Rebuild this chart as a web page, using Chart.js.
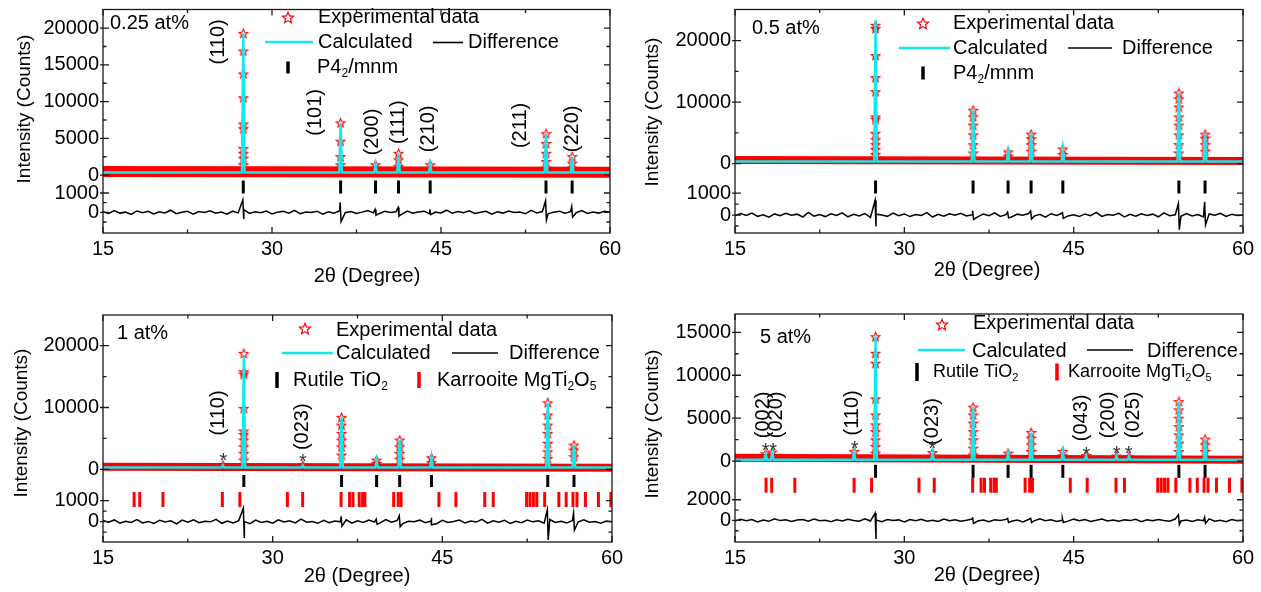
<!DOCTYPE html>
<html>
<head>
<meta charset="utf-8">
<script src="https://cdn.jsdelivr.net/npm/chart.js@4.4.1/dist/chart.umd.min.js"></script>
<style>
  body { margin: 0; background: #fff; }
  #wrap { position: relative; width: 1261px; height: 592px; overflow: hidden; background: #fff; }
  #wrap canvas { position: absolute; }
</style>
</head>
<body>
<div id="wrap">
  <canvas id="c1" width="630" height="296" style="left:0;top:0"></canvas>
  <canvas id="c2" width="631" height="296" style="left:630px;top:0"></canvas>
  <canvas id="c3" width="630" height="296" style="left:0;top:296px"></canvas>
  <canvas id="c4" width="631" height="296" style="left:630px;top:296px"></canvas>
</div>
<script>
// ---- data ----
const twoTheta = { min: 15, max: 60, major: [15, 30, 45, 60], minor: [22.5, 37.5, 52.5] };
const rutilePos = [27.45, 36.09, 39.19, 41.23, 44.04, 54.32, 56.64];
const karrooitePos = [17.75, 18.25, 20.3, 25.55, 27.1, 31.3, 32.65, 36.05, 36.8, 37.1, 37.65, 37.95, 38.15,
  40.7, 41.1, 41.35, 44.7, 46.2, 48.75, 49.5, 52.45, 52.75, 53.05, 53.35, 54.05, 55.3, 55.95, 56.55,
  56.9, 57.65, 58.8, 59.9];

const panelTitles = ['0.25 at%', '0.5 at%', '1 at%', '5 at%'];
const seriesNames = ['Experimental data', 'Calculated', 'Difference'];
const phaseNames = ['P4_{2}/mnm', 'Rutile TiO_{2}', 'Karrooite MgTi_{2}O_{5}'];
const axisTitles = ['2θ (Degree)', 'Intensity (Counts)'];

// 0.25 at%
const calc1 = [19300, 7100, 1450, 2970, 1450, 5700, 2530];
const stars1 = [
  [19290, 16890, 13770, 10530, 6970, 6310, 3640, 2970, 2310, 1430],
  [7110, 4620, 2530, 1430], [1430], [2970, 2090, 1200], [1430],
  [5640, 4310, 2970, 1870, 970], [2530, 1640, 970]
];
const diffNoise1 = [
  30,-60,90,-40,10,-110,70,-20,50,-80, 30,-30,110,-70,0,60,-90,40,-10,80,
  -50,20,-100,60,-30,140,-60,30,-20,70, -80,10,50,-40,100,-70,20,-10,60,-90,
  30,-50,80,-20,40,-60,10,90,-30,-70, 50,-10,30,-100,70,-40,20,60,-80,10,
  -30,110,-50,40,-20,80,-60,0,50,-90, 30,-40,70,-10,20,-70,100,-30,40,-80,
  10,60,-50,30,-20,90,-60,20,-40,50, 10];
const diffSpikes1 = [[27.45, 650, -300], [36.09, 520, -480], [39.19, 150, -150], [41.23, 250, -200],
  [44.04, 150, -120], [54.32, 600, -400], [56.64, 300, -250]];
const hkl1 = [['(110)', 25.25, 18130], ['(101)', 33.85, 8530], ['(200)', 38.9, 5870], ['(111)', 41.26, 7200],
  ['(210)', 43.93, 6300], ['(211)', 52.09, 6760], ['(220)', 56.68, 6300]];

// 0.5 at%
const calc2 = [23300, 8700, 1900, 4800, 2400, 11500, 4800];
const stars2 = [
  [22490, 21960, 17550, 13990, 11710, 7610, 7240, 4940, 3890, 3090, 2300, 1500],
  [8680, 7610, 6280, 4690, 3090, 1750], [1910, 1230], [4790, 4050, 3090, 2030], [2390, 1500],
  [11480, 10530, 9200, 7610, 6280, 4690, 3090, 1750], [4790, 4150, 3090, 2030]
];
const diffNoise2 = [
  -40,70,-20,90,-60,10,-100,50,-30,80, -10,40,-90,120,-50,20,-70,60,-20,100,
  -80,30,-40,70,-110,40,0,-60,90,-30, 50,-70,20,-20,110,-90,30,-50,60,-10,
  80,-40,10,-80,50,-30,100,-60,20,-90, 40,-10,70,-50,30,-100,60,-20,90,-40,
  10,-70,50,-30,120,-60,20,-10,80,-90, 30,-50,60,-20,40,-80,100,-30,10,-60,
  70,-40,20,-90,50,-10,80,-60,30,-20, 0];
const diffSpikes2 = [[27.45, 670, -520], [36.09, 200, -200], [39.19, 130, -130], [41.23, 180, -180],
  [44.04, 150, -150], [54.32, 520, -670], [56.64, 600, -450]];

// 1 at%
const calc3 = [18300, 8400, 1500, 4740, 1880, 10780, 3930];
const calcMinor3 = [[25.6, 700], [32.67, 650]];
const stars3 = [
  [18770, 15790, 15420, 9870, 6200, 5660, 4740, 3660, 2590, 1500],
  [8410, 7170, 5820, 4740, 3660, 2310], [1500, 970], [4740, 3660, 2590, 1620], [1880, 1070],
  [10780, 8790, 7170, 5820, 4210, 2850, 1780], [3930, 3120, 2040]
];
const diffNoise3 = [
  50,-30,80,-70,20,-40,100,-60,10,-90, 60,-20,40,-110,70,-30,90,-50,20,-10,
  110,-80,30,-60,50,0,-100,70,-40,20, -70,90,-20,40,-60,120,-30,10,-80,60,
  -50,30,-10,90,-70,40,-40,80,-20,-60, 100,-30,50,-90,20,-10,70,-50,30,-100,
  60,-40,10,80,-60,30,-20,110,-70,40, -30,60,-90,20,-50,80,-10,40,-70,100,
  -40,20,-60,50,-20,90,-30,10,-80,30, -10];
const diffSpikes3 = [[27.45, 640, -740], [36.09, 250, -220], [39.19, 120, -120], [41.23, 280, -250],
  [44.04, 180, -150], [54.32, 560, -870], [56.64, 400, -400]];
const hkl3 = [['(110)', 25.25, 9110], ['(023)', 32.67, 6890]];
const marks3 = [[25.64, 2150], [32.67, 1940]];

// 5 at%
const calc4 = [14500, 6300, 930, 3330, 1120, 6950, 2560];
const calcMinor4 = [[17.72, 850], [18.3, 1050], [25.55, 1120], [32.5, 1000], [46.1, 650], [48.8, 600], [49.9, 550]];
const stars4 = [
  [14490, 12560, 11400, 7250, 5380, 4220, 3440, 2480, 1700, 930],
  [6280, 5380, 4420, 3440, 2480, 1510, 730], [930, 530], [3330, 2670, 1900, 1120], [1120, 620],
  [6930, 5970, 5000, 4020, 3060, 2090, 1120], [2560, 1900, 1120]
];
const diffNoise4 = [
  -60,120,-30,80,-140,40,-90,150,-20,60, -110,30,90,-70,140,-40,10,-130,70,-50,
  100,-20,-80,160,-60,30,-120,90,-10,50, -150,80,-30,110,-70,20,-100,140,-40,60,
  -90,10,130,-60,40,-120,70,-20,100,-80, 30,-140,90,-50,150,-30,60,-110,20,-70,
  120,-40,80,-100,10,140,-60,30,-90,50, -20,110,-130,70,-40,90,-10,-80,130,-50,
  40,-100,60,-30,150,-70,20,-120,80,-40, 10];
const diffSpikes4 = [[27.45, 710, -1800], [36.09, 300, -300], [39.19, 200, -200], [41.23, 200, -200],
  [44.04, 200, -200], [54.32, 550, -400], [56.64, 300, -300]];
const hkl4 = [['(002)', 17.48, 5385], ['(020)', 18.67, 5385], ['(110)', 25.45, 5617], ['(023)', 32.49, 4605],
  ['(043)', 45.68, 5036], ['(200)', 48.04, 5385], ['(025)', 50.26, 5385]];
const marks4 = [[17.72, 1700], [18.37, 1700], [25.6, 1900], [32.49, 1900], [46.13, 1230], [48.81, 1310], [49.87, 1310]];

// ---- style ----
const CYAN = '#12e9ec';
const RED = '#ff0000';
const INK = '#1a1a1a';
const FONT = "'Liberation Sans', Arial, sans-serif";
const PEAK_HALF = 0.12;

Chart.defaults.font.family = FONT;
Chart.defaults.font.size = 20;
Chart.defaults.color = '#000';

function starPath(ctx, cx, cy, r) {
  ctx.beginPath();
  for (let i = 0; i < 10; i++) {
    const rr = i % 2 ? r * 0.45 : r;
    const a = -Math.PI / 2 + i * Math.PI / 5;
    ctx.lineTo(cx + rr * Math.cos(a), cy + rr * Math.sin(a));
  }
  ctx.closePath();
}

const starImg = document.createElement('canvas');
starImg.width = 11; starImg.height = 11;
(function () {
  const g = starImg.getContext('2d');
  g.strokeStyle = RED; g.lineWidth = 1.1;
  starPath(g, 5.5, 5.9, 4.6); g.stroke();
})();

function richText(ctx, str, x, y, size) {
  const parts = str.split(/_\{([^}]*)\}/);
  let cx = x;
  ctx.textAlign = 'left'; ctx.textBaseline = 'middle';
  parts.forEach((s, i) => {
    const sub = i % 2 === 1;
    ctx.font = `${sub ? Math.round(size * 0.62) : size}px ${FONT}`;
    ctx.fillText(s, cx, y + (sub ? size * 0.33 : 0));
    cx += ctx.measureText(s).width;
  });
}

function rotatedText(ctx, str, x, y, size) {
  ctx.save();
  ctx.translate(x, y);
  ctx.rotate(-Math.PI / 2);
  ctx.font = `${size}px ${FONT}`;
  ctx.textAlign = 'center'; ctx.textBaseline = 'middle';
  ctx.fillText(str, 0, 0);
  ctx.restore();
}

// frame, inward ticks, axis titles, peak labels and legend
const decorations = {
  id: 'decorations',
  afterDatasetsDraw(chart, args, o) {
    const p = o.panel;
    const { ctx, chartArea: a, scales: { x, y } } = chart;
    ctx.save();
    ctx.strokeStyle = INK; ctx.lineWidth = 1.3;
    ctx.strokeRect(a.left, a.top, a.right - a.left, a.bottom - a.top);
    ctx.beginPath();
    x.ticks.forEach(t => {
      const px = x.getPixelForValue(t.value), len = t.label ? 6 : 3.5;
      ctx.moveTo(px, a.bottom); ctx.lineTo(px, a.bottom - len);
      ctx.moveTo(px, a.top); ctx.lineTo(px, a.top + len);
    });
    y.ticks.forEach(t => {
      const py = y.getPixelForValue(t.value), len = t.label ? 6 : 3.5;
      ctx.moveTo(a.left - (t.label ? 3 : 0), py); ctx.lineTo(a.left + len, py);
      ctx.moveTo(a.right, py); ctx.lineTo(a.right - len, py);
    });
    ctx.stroke();

    const L = p.legend;
    ctx.fillStyle = '#000';
    ctx.font = `20px ${FONT}`;
    ctx.textAlign = 'center'; ctx.textBaseline = 'middle';
    ctx.fillText(axisTitles[0], L.xTitle[0], L.xTitle[1]);
    rotatedText(ctx, axisTitles[1], L.yTitle[0], L.yTitle[1], 19);

    (p.hkl || []).forEach(([t, vx, vy]) => rotatedText(ctx, t, x.getPixelForValue(vx), y.getPixelForValue(vy), 20));
    ctx.fillStyle = '#333';
    ctx.font = `20px ${FONT}`;
    ctx.textAlign = 'center'; ctx.textBaseline = 'middle';
    (p.marks || []).forEach(([vx, vy]) => ctx.fillText('*', x.getPixelForValue(vx), y.getPixelForValue(vy) + 5));

    // legend
    ctx.fillStyle = '#000';
    richText(ctx, panelTitles[p.index], L.title[0], L.title[1], 20);
    ctx.strokeStyle = RED; ctx.lineWidth = 1.2;
    starPath(ctx, L.star[0], L.star[1], 5.8); ctx.stroke();
    richText(ctx, seriesNames[0], L.exp[0], L.exp[1], 20);
    ctx.lineWidth = 2.4; ctx.strokeStyle = CYAN;
    ctx.beginPath(); ctx.moveTo(L.calcLine[0], L.calcLine[2]); ctx.lineTo(L.calcLine[1], L.calcLine[2]); ctx.stroke();
    richText(ctx, seriesNames[1], L.calc[0], L.calc[1], 20);
    ctx.lineWidth = 1.6; ctx.strokeStyle = '#000';
    ctx.beginPath(); ctx.moveTo(L.diffLine[0], L.diffLine[2]); ctx.lineTo(L.diffLine[1], L.diffLine[2]); ctx.stroke();
    richText(ctx, seriesNames[2], L.diff[0], L.diff[1], 20);
    L.phases.forEach(([bx, by, bh, col, tx, name, size]) => {
      ctx.strokeStyle = col; ctx.lineWidth = 3.5;
      ctx.beginPath(); ctx.moveTo(bx, by - bh / 2); ctx.lineTo(bx, by + bh / 2); ctx.stroke();
      ctx.fillStyle = '#000';
      richText(ctx, phaseNames[name], tx, by, size);
    });
    ctx.restore();
  }
};

function buildPanel(canvasId, p) {
  const cv = document.getElementById(canvasId);
  const [mMin, mMax] = p.mainRange, [dMin, dMax] = p.diffRange;
  const toMain = v => mMin + (v - dMin) / (dMax - dMin) * (mMax - mMin);

  const peaks = rutilePos.map((x, i) => [x, p.calc[i]]).concat(p.calcMinor || []).sort((a, b) => a[0] - b[0]);
  const calcLine = [{ x: twoTheta.min, y: p.calcBg }];
  peaks.forEach(([x, h]) => {
    calcLine.push({ x: x - PEAK_HALF, y: p.calcBg }, { x, y: h }, { x: x + PEAK_HALF, y: p.calcBg });
  });
  calcLine.push({ x: twoTheta.max, y: p.calcBg });

  const stars = [];
  p.stars.forEach((hs, i) => hs.forEach(h => stars.push({ x: rutilePos[i], y: h })));
  (p.calcMinor || []).forEach(([x, h]) => stars.push({ x, y: h }));

  const band = [{ x: twoTheta.min, y: p.band[0] }, { x: twoTheta.max, y: p.band[1] }];

  const n = p.noise.length;
  const diff = p.noise.map((v, i) => ({ x: twoTheta.min + i * (twoTheta.max - twoTheta.min) / (n - 1), y: v }));
  p.spikes.forEach(([x, up, dn]) => diff.push({ x: x - 0.04, y: up }, { x: x + 0.04, y: dn }));
  diff.sort((a, b) => a.x - b.x);

  const datasets = [
    { data: calcLine, showLine: true, borderColor: CYAN, borderWidth: 2.4, pointRadius: 0 },
    { data: stars, pointStyle: starImg, pointRadius: 4 },
    { data: band, showLine: true, borderColor: RED, borderWidth: p.bandWidth, pointRadius: 0 },
    { data: diff, yAxisID: 'yd', showLine: true, borderColor: '#000', borderWidth: 1.5, pointRadius: 0 },
    { data: rutilePos.map(x => ({ x, y: p.rows[0] })), pointStyle: 'line', pointRotation: 90,
      pointRadius: p.rowLen[0], pointBorderWidth: 3, pointBorderColor: '#000' }
  ];
  if (p.rows.length > 1) {
    datasets.push({ data: karrooitePos.map(x => ({ x, y: p.rows[1] })), pointStyle: 'line', pointRotation: 90,
      pointRadius: p.rowLen[1], pointBorderWidth: 3, pointBorderColor: RED });
  }

  const a = p.area;
  new Chart(cv, {
    type: 'scatter',
    data: { datasets },
    plugins: [decorations],
    options: {
      responsive: false, animation: false, events: [], devicePixelRatio: 1,
      layout: { padding: { left: 0, top: a[1], right: cv.width - a[2], bottom: 0 } },
      plugins: { legend: { display: false }, tooltip: { enabled: false }, decorations: { panel: p } },
      scales: {
        x: {
          type: 'linear', position: 'bottom', min: twoTheta.min, max: twoTheta.max,
          grid: { display: false, drawTicks: false }, border: { display: false },
          ticks: { autoSkip: false, maxRotation: 0, padding: 4, callback: (v, i, t) => t[i].text },
          afterBuildTicks: s => {
            s.ticks = twoTheta.major.map(v => ({ value: v, text: String(v) }))
              .concat(twoTheta.minor.map(v => ({ value: v, text: '' })))
              .sort((u, w) => u.value - w.value);
          },
          afterFit: s => { s.height = cv.height - a[3]; s.paddingLeft = 0; s.paddingRight = 0; }
        },
        y: {
          type: 'linear', position: 'left', min: mMin, max: mMax,
          grid: { display: false, drawTicks: false }, border: { display: false },
          ticks: { autoSkip: false, padding: 4, callback: (v, i, t) => t[i].text },
          afterBuildTicks: s => {
            const list = [];
            p.yMajor.forEach(v => list.push({ value: v, text: String(v) }));
            p.yMinor.forEach(v => list.push({ value: v, text: '' }));
            p.dMajor.forEach(v => list.push({ value: toMain(v), text: String(v) }));
            p.dMinor.forEach(v => list.push({ value: toMain(v), text: '' }));
            s.ticks = list.sort((u, w) => u.value - w.value);
          },
          afterFit: s => { s.width = a[0]; s.paddingTop = 0; s.paddingBottom = 0; }
        },
        yd: { type: 'linear', display: false, min: dMin, max: dMax }
      }
    }
  });
}

buildPanel('c1', {
  index: 0, area: [103, 5, 610, 233], mainRange: [-7870, 22530], diffRange: [-1070, 10500],
  yMajor: [0, 5000, 10000, 15000, 20000], yMinor: [2500, 7500, 12500, 17500], dMajor: [0, 1000], dMinor: [-500, 500],
  calc: calc1, calcBg: 350, stars: stars1, band: [480, 380], bandWidth: 11,
  noise: diffNoise1, spikes: diffSpikes1, rows: [-1600], rowLen: [6.5], hkl: hkl1,
  legend: { xTitle: [367, 276], yTitle: [25, 109], title: [110, 23], star: [288, 18], exp: [318, 17],
    calcLine: [265, 313, 42], calc: [318, 42], diffLine: [433, 463, 42.5], diff: [468, 42],
    phases: [[288, 67.5, 12, '#000', 317, 0, 20]] }
});
buildPanel('c2', {
  index: 1, area: [105, 6, 613, 233], mainRange: [-11260, 25040], diffRange: [-820, 9380],
  yMajor: [0, 10000, 20000], yMinor: [5000, 15000], dMajor: [0, 1000], dMinor: [-500, 500],
  calc: calc2, calcBg: 350, stars: stars2, band: [600, 450], bandWidth: 8,
  noise: diffNoise2, spikes: diffSpikes2, rows: [-3800], rowLen: [6.5],
  legend: { xTitle: [357, 270], yTitle: [23, 112], title: [122, 28], star: [293, 24], exp: [323, 23],
    calcLine: [269, 320, 48], calc: [323, 48], diffLine: [438, 482, 48], diff: [492, 48],
    phases: [[293, 73, 13, '#000', 323, 0, 20]] }
});
buildPanel('c3', {
  index: 2, area: [103, 19, 612, 246], mainRange: [-11760, 24970], diffRange: [-970, 9840],
  yMajor: [0, 10000, 20000], yMinor: [5000, 15000], dMajor: [0, 1000], dMinor: [-500, 500],
  calc: calc3, calcMinor: calcMinor3, calcBg: 300, stars: stars3, band: [420, 250], bandWidth: 8,
  noise: diffNoise3, spikes: diffSpikes3, rows: [-1890, -4890], rowLen: [6, 7.5], hkl: hkl3, marks: marks3,
  legend: { xTitle: [357, 280], yTitle: [22, 127], title: [117, 37], star: [305, 33], exp: [336, 34],
    calcLine: [282, 333, 57], calc: [336, 57], diffLine: [452, 498, 57], diff: [509, 57],
    phases: [[277, 84, 16, '#000', 293, 1, 20], [419, 84, 16, RED, 437, 2, 20]] }
});
buildPanel('c4', {
  index: 3, area: [105, 18, 613, 246], mainRange: [-9420, 17130], diffRange: [-2090, 19970],
  yMajor: [0, 5000, 10000, 15000], yMinor: [2500, 7500, 12500], dMajor: [0, 2000], dMinor: [-1000, 1000],
  calc: calc4, calcMinor: calcMinor4, calcBg: 150, stars: stars4, band: [400, 150], bandWidth: 8,
  noise: diffNoise4, spikes: diffSpikes4, rows: [-1190, -2810], rowLen: [6.5, 7.5], hkl: hkl4, marks: marks4,
  legend: { xTitle: [357, 279], yTitle: [23, 128], title: [130, 41], star: [312, 29], exp: [343, 27],
    calcLine: [288, 335, 54], calc: [342, 55], diffLine: [457, 503, 54], diff: [517, 55],
    phases: [[287, 76, 18, '#000', 303, 1, 18], [427, 76, 17, RED, 438, 2, 18]] }
});
</script>
</body>
</html>
